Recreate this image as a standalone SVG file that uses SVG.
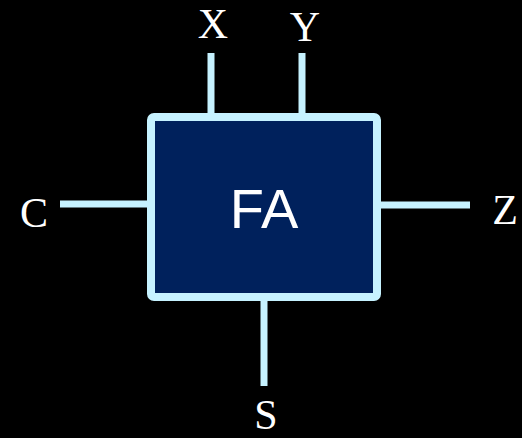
<svg xmlns="http://www.w3.org/2000/svg" width="522" height="438" viewBox="0 0 522 438">
<style>
.wire{stroke:#c6f2ff;stroke-width:7;fill:none}
.lbl{font-family:"Liberation Serif","Times New Roman",serif;font-size:42px;fill:#ffffff;text-anchor:middle}
</style>
<rect x="0" y="0" width="522" height="438" fill="#000000"/>
<g id="connectors">
<line class="wire" x1="211" y1="53" x2="211" y2="113"/>
<line class="wire" x1="302" y1="53" x2="302" y2="113"/>
<line class="wire" x1="60" y1="204" x2="147" y2="204"/>
<line class="wire" x1="381" y1="205" x2="470" y2="205"/>
<line class="wire" x1="264" y1="301" x2="264" y2="386"/>
</g>
<g id="FA">
<rect x="151" y="117" width="226" height="180" rx="3" fill="#00215c" stroke="#c6f2ff" stroke-width="8"/>
<text x="264" y="228" font-family="Liberation Sans,Arial,sans-serif" font-size="56" fill="#ffffff" text-anchor="middle">FA</text>
</g>
<g id="X"><text class="lbl" x="213" y="38">X</text></g>
<g id="Y"><text class="lbl" x="305" y="41">Y</text></g>
<g id="C"><text class="lbl" x="34" y="227">C</text></g>
<g id="Z"><text class="lbl" x="505" y="224">Z</text></g>
<g id="S"><text class="lbl" x="266" y="429" font-size="40">S</text></g>
</svg>
